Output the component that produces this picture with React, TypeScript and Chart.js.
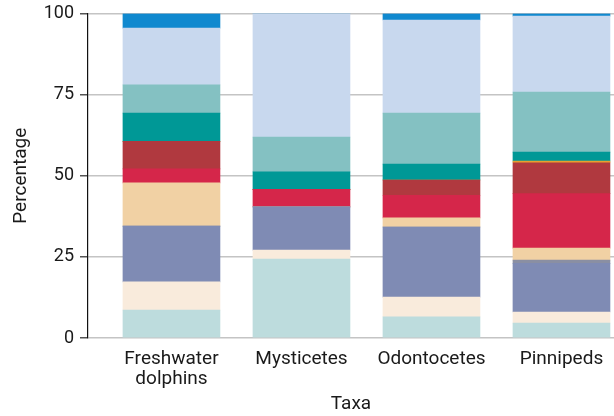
import React, { useEffect, useRef } from "react";
import { Chart, registerables } from "chart.js";

Chart.register(...registerables);

const categories: (string | string[])[] = [["Freshwater", "dolphins"], "Mysticetes", "Odontocetes", "Pinnipeds"];
const yTicks = [0, 25, 50, 75, 100];

const seriesNames = [
  "Group 1", "Group 2", "Group 3", "Group 4", "Group 5", "Group 6",
  "Group 7", "Group 8", "Group 9", "Group 10", "Group 11", "Group 12",
];
const seriesColors = [
  "#bddcdd", "#f9ebdc", "#7f8bb4", "#8a8fa3", "#f1d1a4", "#d5264a",
  "#b0393f", "#e8a030", "#009896", "#84c1c2", "#c8d8ee", "#1089cf",
];
// values per category (Freshwater dolphins, Mysticetes, Odontocetes, Pinnipeds)
const s1 = [8.6, 24.3, 6.5, 4.6];
const s2 = [8.7, 2.8, 6.1, 3.4];
const s3 = [17.2, 13.3, 21.6, 15.0];
const s4 = [0, 0, 0, 1.0];
const s5 = [13.3, 0, 2.8, 3.7];
const s6 = [4.3, 5.4, 7.0, 16.8];
const s7 = [8.5, 0, 4.7, 9.5];
const s8 = [0, 0, 0, 0.5];
const s9 = [8.7, 5.4, 4.9, 2.8];
const s10 = [8.7, 10.7, 15.7, 18.5];
const s11 = [17.5, 38.1, 28.7, 23.4];
const s12 = [4.5, 0, 2.0, 0.8];
const seriesValues = [s1, s2, s3, s4, s5, s6, s7, s8, s9, s10, s11, s12];

export default function App() {
  const ref = useRef<HTMLCanvasElement | null>(null);
  useEffect(() => {
    if (!ref.current) return;
    Chart.defaults.font.family = "Roboto";
    const datasets = seriesValues.map((vals, si) => ({
      label: seriesNames[si],
      data: vals.map((v, i) => ({ x: i, y: v })),
      backgroundColor: seriesColors[si],
      borderWidth: 0,
      barThickness: 97,
    }));
    const chart = new Chart(ref.current, {
      type: "bar",
      data: { datasets },
      options: {
        animation: false,
        responsive: false,
        maintainAspectRatio: false,
        layout: { padding: { top: 0, right: 0, left: 0, bottom: 0 } },
        plugins: { legend: { display: false }, tooltip: { enabled: false } },
        scales: {
          x: {
            type: "linear",
            stacked: true,
            offset: false,
            min: -0.642,
            max: 3.404,
            grid: { display: false },
            border: { display: false },
            afterBuildTicks: (axis: any) => {
              axis.ticks = categories.map((_, i) => ({ value: i }));
            },
            afterFit: (scale: any) => {
              scale.height = 78;
            },
            ticks: {
              autoSkip: false,
              maxRotation: 0,
              padding: 3,
              color: "#1a1a1a",
              font: { size: 19, lineHeight: 1.05 },
              callback: (v: any) => categories[Math.round(v)] as any,
            },
            title: {
              display: true,
              text: "Taxa",
              color: "#1a1a1a",
              font: { size: 19 },
              padding: { top: 4, bottom: 0 },
            },
          },
          y: {
            stacked: true,
            min: 0,
            max: 100,
            afterBuildTicks: (axis: any) => {
              axis.ticks = yTicks.map((v) => ({ value: v }));
            },
            afterFit: (scale: any) => {
              scale.width = 88;
              scale.paddingTop = 13.5;
            },
            grid: {
              color: "#c4c4c4",
              lineWidth: 1.5,
              tickColor: "#555555",
              tickLength: 8,
            },
            border: { display: true, color: "#111111", width: 1.2 },
            ticks: {
              color: "#1a1a1a",
              font: { size: 18, lineHeight: 1.0 },
              padding: 6,
            },
            title: {
              display: true,
              text: "Percentage",
              color: "#1a1a1a",
              font: { size: 19 },
              padding: { top: 10, bottom: 4 },
            },
          },
        },
      },
    });
    return () => chart.destroy();
  }, []);
  return (
    <div style={{ position: "fixed", left: 0, top: 0, width: 614, height: 416, background: "#fff" }}>
      <canvas ref={ref} width={614} height={416} style={{ width: 614, height: 416 }} />
    </div>
  );
}
